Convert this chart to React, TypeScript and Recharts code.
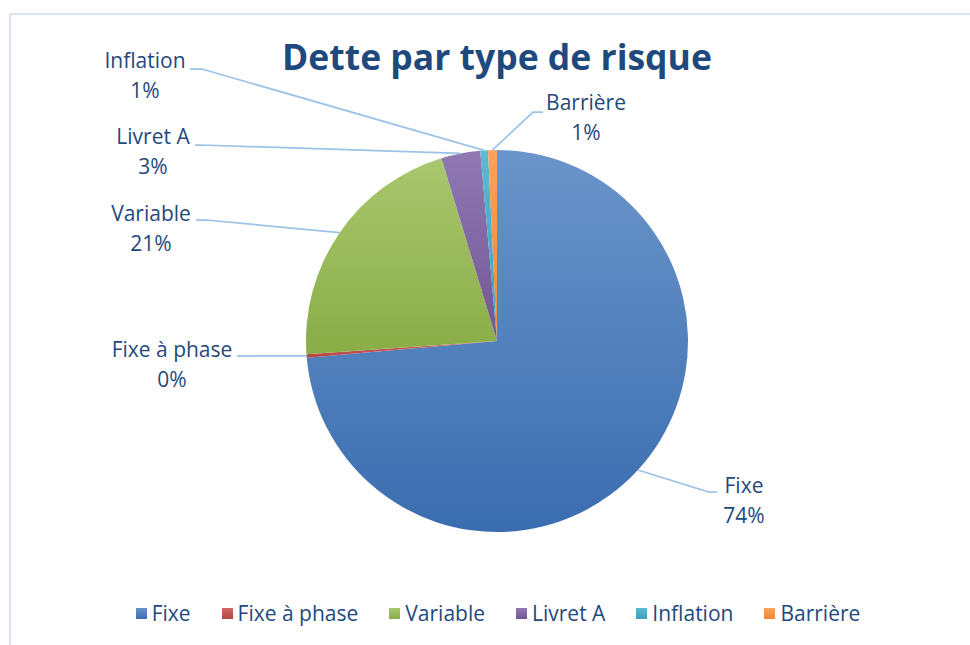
import React from 'react'
import { PieChart, Pie, Cell, Legend } from 'recharts'

const categories = ['Fixe', 'Fixe à phase', 'Variable', 'Livret A', 'Inflation', 'Barrière']
const shares = [73.6, 0.3, 21.4, 3.3, 0.65, 0.75]
const colors = ['#4f81bd', '#c0504d', '#9bbb59', '#8064a2', '#4bacc6', '#f79646']
const gradTop = ['#6b95ca', '#cd6a67', '#a9c76f', '#9079b2', '#5dbad2', '#f9a35c']
const gradBottom = ['#3a6db0', '#b54340', '#8aad47', '#725696', '#3b9fba', '#ee8733']

const data = categories.map((name, i) => ({ name, value: shares[i] }))

// where Excel put each data label: text centre x, first baseline, leader start / elbow
const labelLayout = [
  { tx: 744, ty: 493, hx: 717, ex: 709, hy: 492 },
  { tx: 172, ty: 357, hx: 237, ex: 237, hy: 356 },
  { tx: 151, ty: 221, hx: 196, ex: 206, hy: 220 },
  { tx: 153, ty: 144, hx: 195, ex: 201, hy: 145 },
  { tx: 145, ty: 68, hx: 190, ex: 202, hy: 69 },
  { tx: 586, ty: 110, hx: 543, ex: 533, hy: 112 },
]

const FONT = '"Open Sans", Lato, sans-serif'
const TEXT = '#1f497d'
const RAD = Math.PI / 180

function renderLabel(props: any) {
  const { cx, cy, midAngle, outerRadius, percent, index } = props
  const l = labelLayout[index]
  const px = cx + outerRadius * Math.cos(-midAngle * RAD)
  const py = cy + outerRadius * Math.sin(-midAngle * RAD)
  return (
    <g key={`lbl-${index}`}>
      <polyline
        points={`${l.hx},${l.hy} ${l.ex},${l.hy} ${px},${py}`}
        fill="none"
        stroke="#9dc3e6"
        strokeWidth={1.75}
      />
      <text x={l.tx} y={l.ty} textAnchor="middle" fill={TEXT} fontSize={21} fontFamily={FONT}>
        <tspan x={l.tx}>{categories[index]}</tspan>
        <tspan x={l.tx} dy={29.5}>{Math.round(percent * 100)}%</tspan>
      </text>
    </g>
  )
}

function LegendRow() {
  return (
    <div
      style={{
        display: 'flex',
        justifyContent: 'center',
        alignItems: 'center',
        gap: 31,
        fontFamily: FONT,
        fontSize: 21,
        color: TEXT,
        paddingLeft: 26,
      }}
    >
      {categories.map((c, i) => (
        <div key={c} style={{ display: 'flex', alignItems: 'center' }}>
          <span
            style={{
              display: 'inline-block',
              width: 11,
              height: 11,
              marginRight: 5,
              background: `linear-gradient(${gradTop[i]}, ${gradBottom[i]})`,
            }}
          />
          <span>{c}</span>
        </div>
      ))}
    </div>
  )
}

export default function App() {
  return (
    <div style={{ position: 'absolute', left: 0, top: 0, width: 970, height: 645, overflow: 'hidden', background: '#fff' }}>
      <div
        style={{
          position: 'absolute',
          left: 9,
          top: 13,
          width: 1000,
          height: 1000,
          borderTop: '2px solid #dae4f2',
          borderLeft: '2px solid #dae4f2',
        }}
      />
      <div
        style={{
          position: 'absolute',
          top: 32,
          left: 0,
          width: 994,
          textAlign: 'center',
          fontFamily: FONT,
          fontWeight: 700,
          fontSize: 35.5,
          color: TEXT,
        }}
      >
        Dette par type de risque
      </div>
      <PieChart
        width={970}
        height={645}
        margin={{ top: 0, right: 0, bottom: 0, left: 0 }}
        style={{ position: 'absolute', top: 0, left: 0 }}
      >
        <defs>
          {colors.map((c, i) => (
            <linearGradient key={c} id={`g${i}`} x1="0" y1="0" x2="0" y2="1">
              <stop offset="0%" stopColor={gradTop[i]} />
              <stop offset="100%" stopColor={gradBottom[i]} />
            </linearGradient>
          ))}
        </defs>
        <Pie
          data={data}
          dataKey="value"
          nameKey="name"
          cx={497}
          cy={341}
          outerRadius={191}
          startAngle={90}
          endAngle={-270}
          stroke="none"
          label={renderLabel}
          labelLine={false}
          isAnimationActive={false}
        >
          {data.map((d, i) => (
            <Cell key={d.name} fill={`url(#g${i})`} />
          ))}
        </Pie>
        <Legend
          verticalAlign="bottom"
          content={() => <LegendRow />}
          wrapperStyle={{ left: 0, top: 599, width: 970 }}
        />
      </PieChart>
    </div>
  )
}
